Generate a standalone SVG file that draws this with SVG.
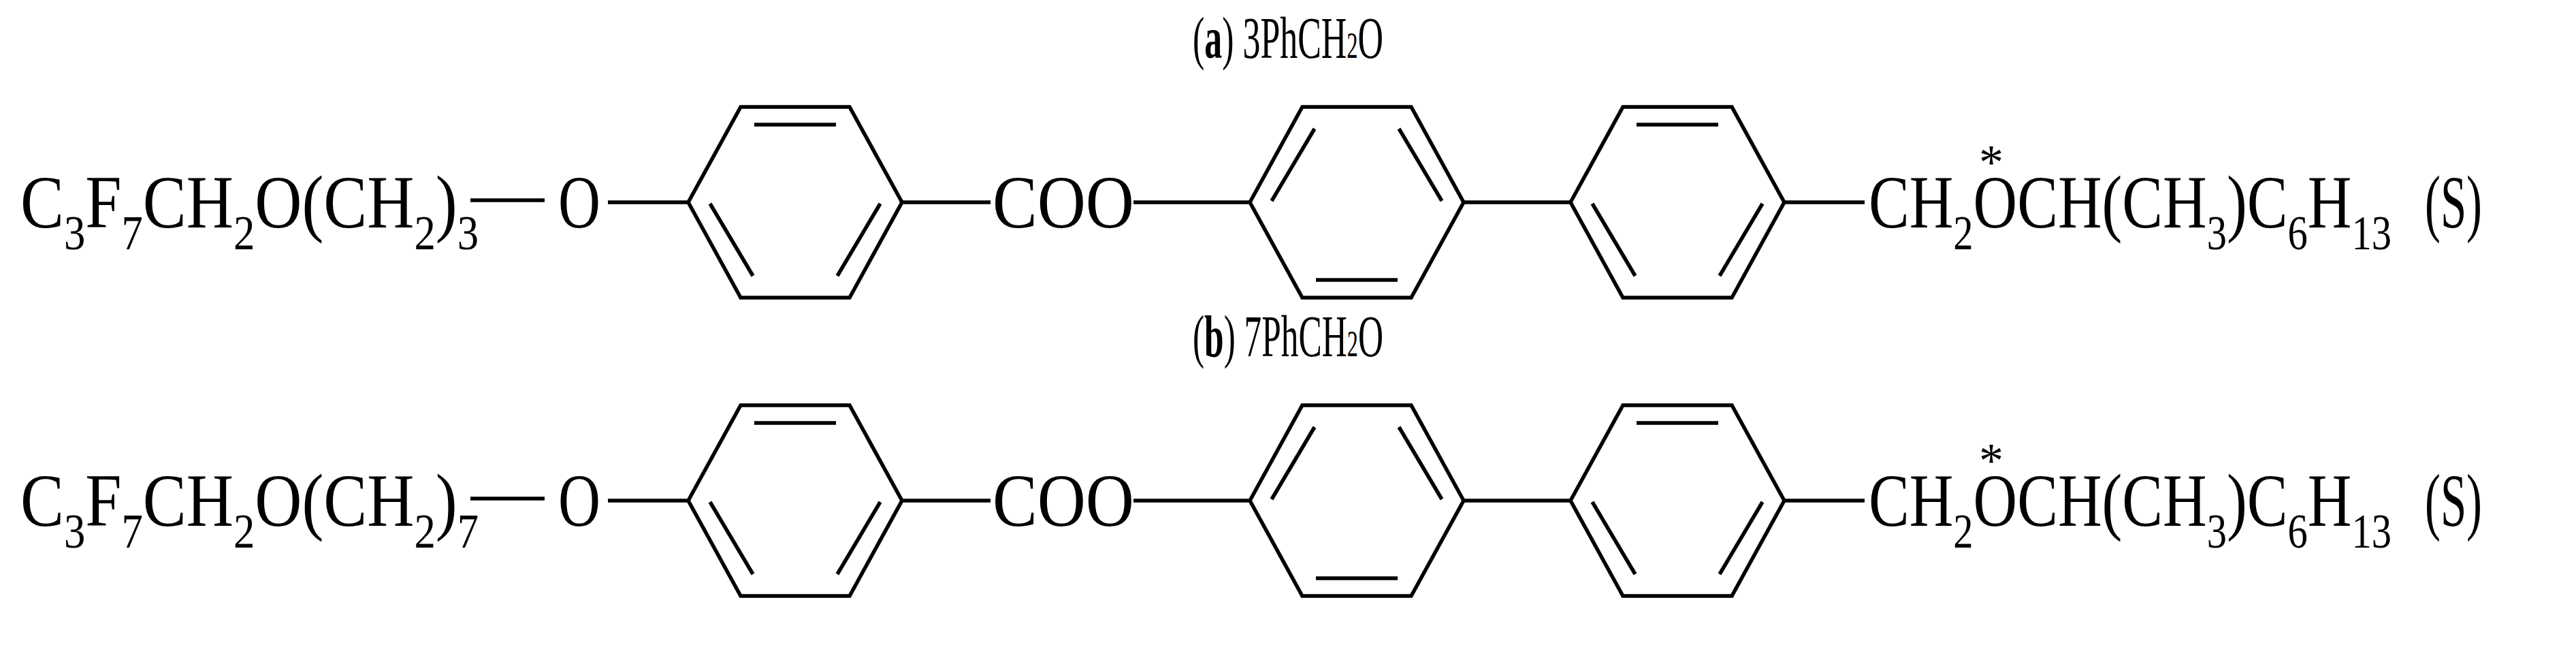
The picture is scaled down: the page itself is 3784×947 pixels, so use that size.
<svg xmlns="http://www.w3.org/2000/svg" width="3784" height="947" viewBox="0 0 3784 947">
<style>
.b{stroke:#000;stroke-width:5.5;fill:none;stroke-linejoin:miter}
.t{font-family:"Liberation Serif","Times New Roman",serif;fill:#000}
.m{font-size:110px}
.s{font-size:72px}
.h{font-size:86px}
</style>
<defs>
<g id="ringA" class="b">
<polygon points="-157,0 -80,-140 80,-140 157,0 80,140 -80,140"/>
<line x1="-60" y1="-114" x2="60" y2="-114"/>
<line x1="-125" y1="2" x2="-62" y2="108"/>
<line x1="125" y1="2" x2="62" y2="108"/>
</g>
<g id="ringB" class="b">
<polygon points="-157,0 -80,-140 80,-140 157,0 80,140 -80,140"/>
<line x1="-60" y1="114" x2="60" y2="114"/>
<line x1="-125" y1="-2" x2="-62" y2="-108"/>
<line x1="125" y1="-2" x2="62" y2="-108"/>
</g>
</defs>
<g id="molecule-a">
<g id="title-a"><text class="t h" x="1752" y="85" textLength="280" lengthAdjust="spacingAndGlyphs">(<tspan font-weight="bold">a</tspan>) 3PhCH<tspan font-size="54">2</tspan>O</text></g>
<g id="tail-a"><text class="t m" x="30" y="334" textLength="673" lengthAdjust="spacingAndGlyphs">C<tspan class="s" dy="32">3</tspan><tspan dy="-32">F</tspan><tspan class="s" dy="32">7</tspan><tspan dy="-32">CH</tspan><tspan class="s" dy="32">2</tspan><tspan dy="-32">O(CH</tspan><tspan class="s" dy="32">2</tspan><tspan dy="-32">)</tspan><tspan class="s" dy="32">3</tspan></text>
<text class="t m" x="820" y="334" textLength="62" lengthAdjust="spacingAndGlyphs">O</text></g>
<g id="ring1-a"><use href="#ringA" x="1168" y="297"/></g>
<g id="coo-a"><text class="t m" x="1458" y="334" textLength="208" lengthAdjust="spacingAndGlyphs">COO</text></g>
<g id="ring2-a"><use href="#ringB" x="1993" y="297"/></g>
<g id="ring3-a"><use href="#ringA" x="2464" y="297"/></g>
<g id="head-a"><text class="t m" x="2745" y="334" textLength="768" lengthAdjust="spacingAndGlyphs">CH<tspan class="s" dy="32">2</tspan><tspan dy="-32">OCH(CH</tspan><tspan class="s" dy="32">3</tspan><tspan dy="-32">)C</tspan><tspan class="s" dy="32">6</tspan><tspan dy="-32">H</tspan><tspan class="s" dy="32">13</tspan></text>
<text class="t s" x="2925" y="262" text-anchor="middle">*</text>
<text class="t m" x="3562" y="334" textLength="84" lengthAdjust="spacingAndGlyphs">(S)</text></g>
<g id="bonds-a" class="b">
<line x1="691" y1="294" x2="800" y2="294"/>
<line x1="893" y1="297" x2="1011" y2="297"/>
<line x1="1325" y1="297" x2="1455" y2="297"/>
<line x1="1665" y1="297" x2="1836" y2="297"/>
<line x1="2150" y1="297" x2="2307" y2="297"/>
<line x1="2621" y1="297" x2="2739" y2="297"/>
</g>
</g>
<g id="molecule-b" transform="translate(0,438)">
<g id="title-b"><text class="t h" x="1752" y="85" textLength="280" lengthAdjust="spacingAndGlyphs">(<tspan font-weight="bold">b</tspan>) 7PhCH<tspan font-size="54">2</tspan>O</text></g>
<g id="tail-b"><text class="t m" x="30" y="334" textLength="673" lengthAdjust="spacingAndGlyphs">C<tspan class="s" dy="32">3</tspan><tspan dy="-32">F</tspan><tspan class="s" dy="32">7</tspan><tspan dy="-32">CH</tspan><tspan class="s" dy="32">2</tspan><tspan dy="-32">O(CH</tspan><tspan class="s" dy="32">2</tspan><tspan dy="-32">)</tspan><tspan class="s" dy="32">7</tspan></text>
<text class="t m" x="820" y="334" textLength="62" lengthAdjust="spacingAndGlyphs">O</text></g>
<g id="ring1-b"><use href="#ringA" x="1168" y="297"/></g>
<g id="coo-b"><text class="t m" x="1458" y="334" textLength="208" lengthAdjust="spacingAndGlyphs">COO</text></g>
<g id="ring2-b"><use href="#ringB" x="1993" y="297"/></g>
<g id="ring3-b"><use href="#ringA" x="2464" y="297"/></g>
<g id="head-b"><text class="t m" x="2745" y="334" textLength="768" lengthAdjust="spacingAndGlyphs">CH<tspan class="s" dy="32">2</tspan><tspan dy="-32">OCH(CH</tspan><tspan class="s" dy="32">3</tspan><tspan dy="-32">)C</tspan><tspan class="s" dy="32">6</tspan><tspan dy="-32">H</tspan><tspan class="s" dy="32">13</tspan></text>
<text class="t s" x="2925" y="262" text-anchor="middle">*</text>
<text class="t m" x="3562" y="334" textLength="84" lengthAdjust="spacingAndGlyphs">(S)</text></g>
<g id="bonds-b" class="b">
<line x1="691" y1="294" x2="800" y2="294"/>
<line x1="893" y1="297" x2="1011" y2="297"/>
<line x1="1325" y1="297" x2="1455" y2="297"/>
<line x1="1665" y1="297" x2="1836" y2="297"/>
<line x1="2150" y1="297" x2="2307" y2="297"/>
<line x1="2621" y1="297" x2="2739" y2="297"/>
</g>
</g>
</svg>
